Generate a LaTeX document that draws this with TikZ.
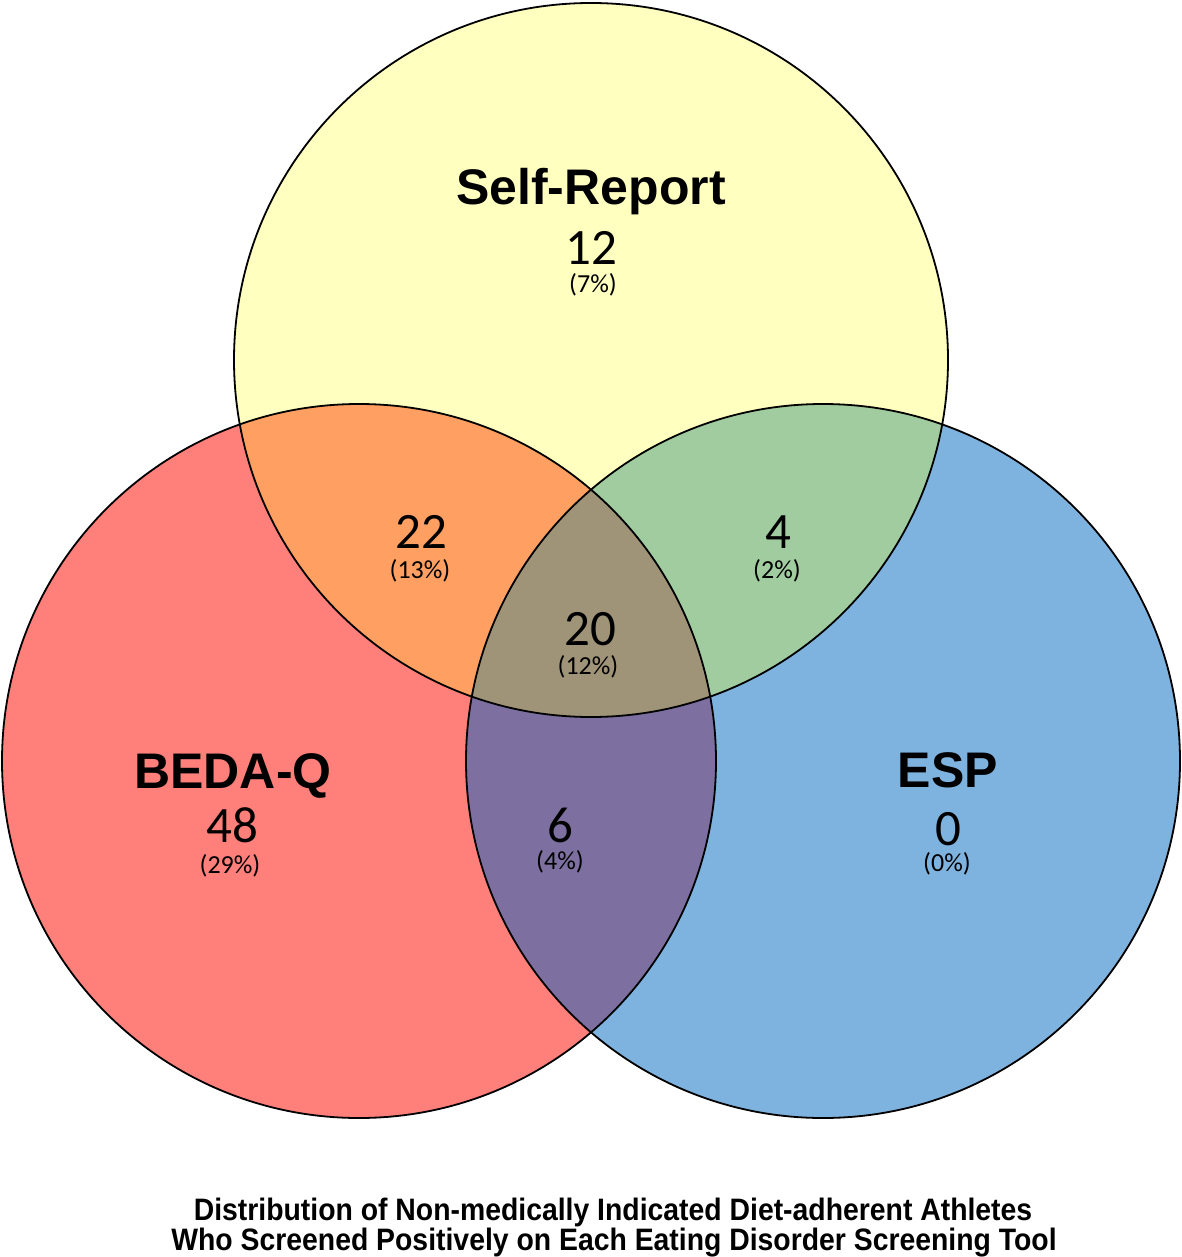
\documentclass[tikz,border=0pt]{standalone}
\usepackage{fontspec}
\setmainfont{Carlito}
\newfontfamily\arialf{Liberation Sans}
\usetikzlibrary{positioning}
\definecolor{cyel}{HTML}{FFFFC0}
\definecolor{cred}{HTML}{FF7F7A}
\definecolor{cblue}{HTML}{7FB3DF}
\definecolor{corange}{HTML}{FFA062}
\definecolor{cgreen}{HTML}{A0CCA0}
\definecolor{cpurple}{HTML}{7D70A0}
\definecolor{ccenter}{HTML}{A09478}
\tikzset{
  setlabel/.style={anchor=base, inner sep=0pt, font=\arialf\bfseries\fontsize{50}{52}\selectfont},
  countlabel/.style={anchor=base, inner sep=0pt, font=\fontsize{51}{53}\selectfont},
  pctlabel/.style={anchor=base, inner sep=0pt, font=\fontsize{26}{28}\selectfont},
  caplabel/.style={anchor=base, inner sep=0pt, font=\arialf\bfseries\fontsize{31}{33}\selectfont},
  ring/.style={draw=black, line width=1.8pt}
}
\begin{document}
\begin{tikzpicture}[x=1pt,y=-1pt]
\useasboundingbox (0,0) rectangle (1182,1257);
\fill[white] (0,0) rectangle (1182,1257);
% base fills
\fill[cyel] (591,360) circle (357);
\fill[cred] (359,761) circle (357);
\fill[cblue] (823,761) circle (357);
% pairwise overlaps
\begin{scope}
  \clip (591,360) circle (357);
  \fill[corange] (359,761) circle (357);
  \fill[cgreen] (823,761) circle (357);
\end{scope}
\begin{scope}
  \clip (359,761) circle (357);
  \fill[cpurple] (823,761) circle (357);
\end{scope}
\begin{scope}
  \clip (591,360) circle (357);
  \clip (359,761) circle (357);
  \fill[ccenter] (823,761) circle (357);
\end{scope}
% outlines
\draw[ring] (591,360) circle (357);
\draw[ring] (359,761) circle (357);
\draw[ring] (823,761) circle (357);
% labels
\node[setlabel] (srl) at (591,205) {Self-Report};
\node[countlabel] (src) at (591,265) {12};
\node[pctlabel] (srp) at (593,292) {(7\%)};
\node[countlabel] (obc) at (421,548) {22};
\node[pctlabel] (obp) at (420,578) {(13\%)};
\node[countlabel] (ogc) at (778,548) {4};
\node[pctlabel] (ogp) at (777,578) {(2\%)};
\node[countlabel] (cc) at (590,645) {20};
\node[pctlabel] (cp) at (588,674) {(12\%)};
\node[setlabel] (bql) at (233,788) {BEDA-Q};
\node[countlabel] (bqc) at (232,842) {48};
\node[pctlabel] (bqp) at (230,873) {(29\%)};
\node[countlabel] (pc) at (560,842) {6};
\node[pctlabel] (pp) at (560,869) {(4\%)};
\node[setlabel] (espl) at (948,787) {ESP};
\node[countlabel] (espc) at (948,845) {0};
\node[pctlabel] (espp) at (947,871) {(0\%)};
\node[caplabel] (cap1) at (613,1220) {\scalebox{0.915}[1]{Distribution of Non-medically Indicated Diet-adherent Athletes}};
\node[caplabel] (cap2) at (614,1250) {\scalebox{0.915}[1]{Who Screened Positively on Each Eating Disorder Screening Tool}};
\end{tikzpicture}
\end{document}
